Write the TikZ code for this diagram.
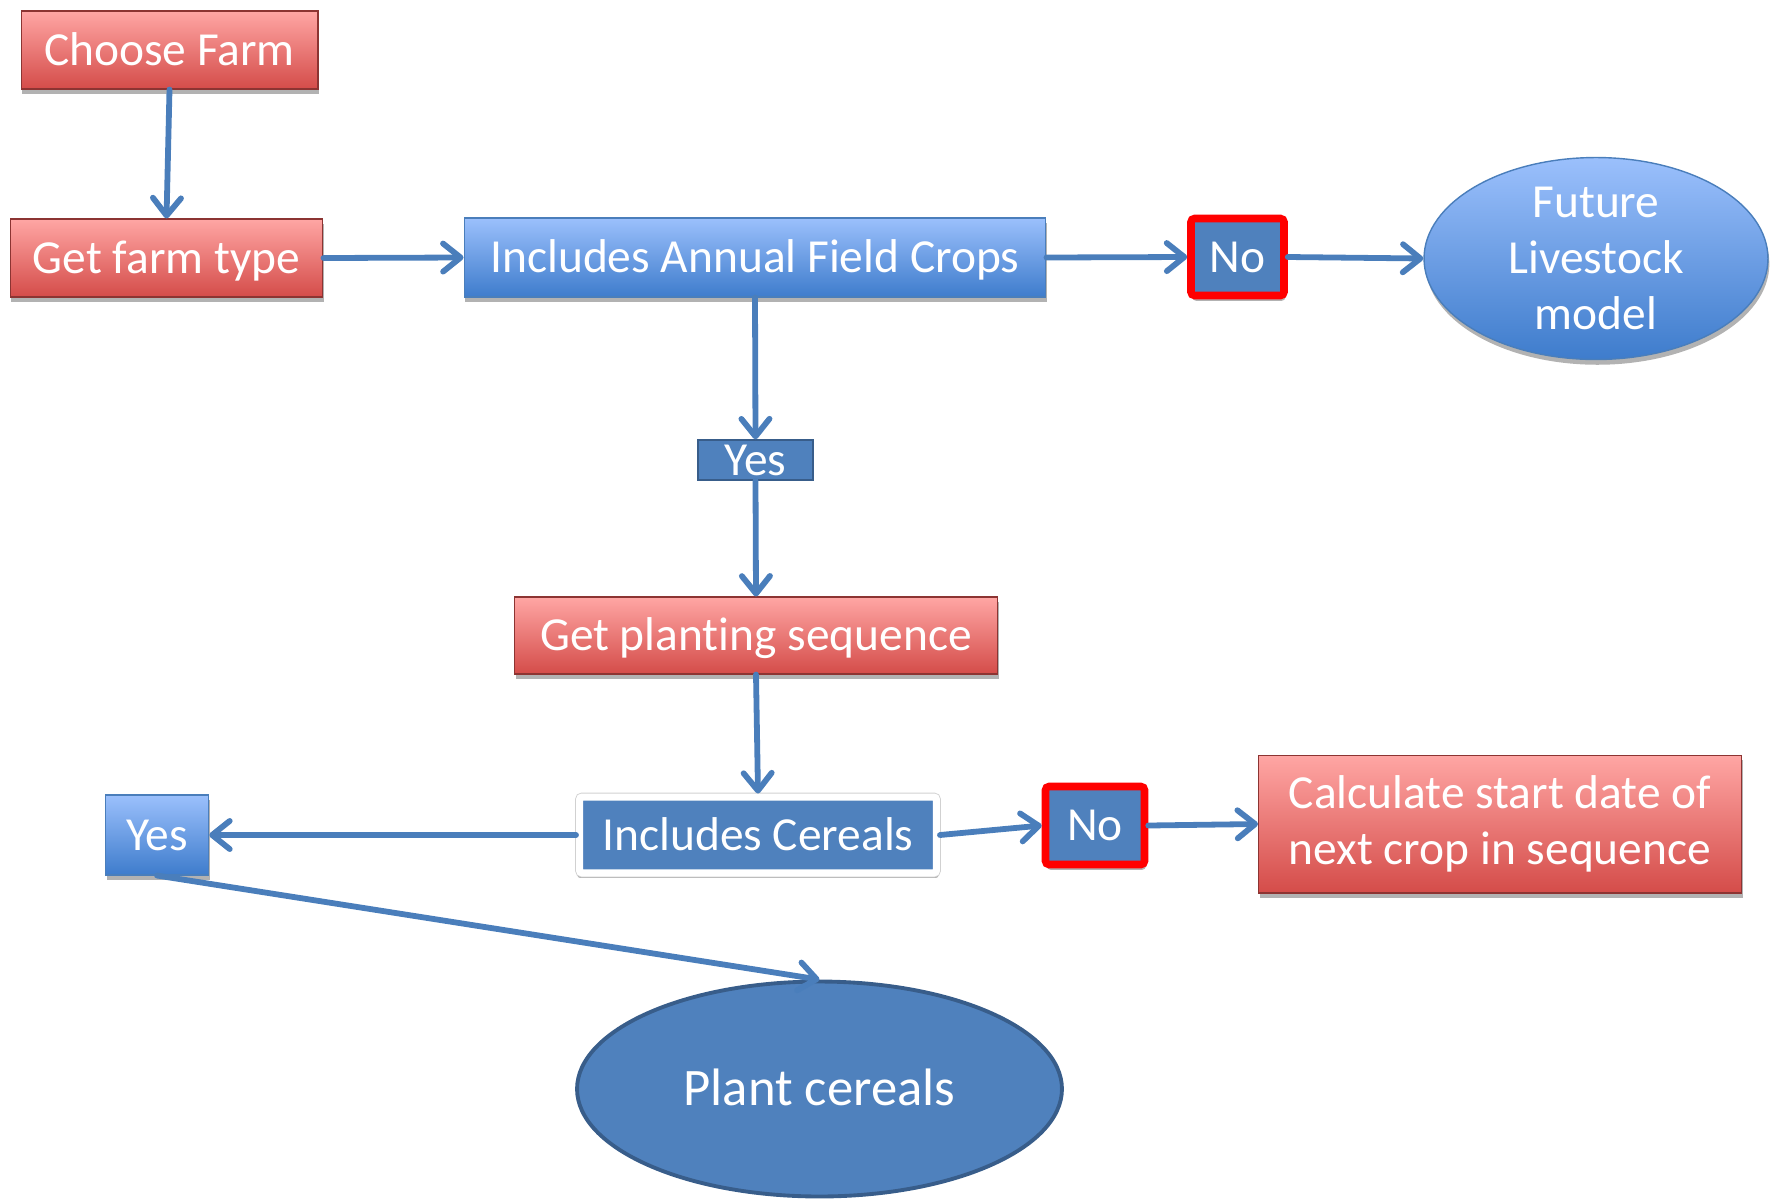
\documentclass[tikz,border=0pt]{standalone}
\usepackage{fontspec}
\setmainfont{Carlito}[Ligatures=NoCommon]
\usetikzlibrary{arrows.meta,shapes.geometric,shadows}
\definecolor{lineblue}{RGB}{74,126,187}
\definecolor{solidblue}{RGB}{79,129,189}
\definecolor{bluetop}{RGB}{155,192,252}
\definecolor{bluebot}{RGB}{62,124,204}
\definecolor{redtop}{RGB}{255,166,164}
\definecolor{redbot}{RGB}{212,76,73}
\definecolor{redborder}{RGB}{140,52,50}
\definecolor{darkblue}{RGB}{56,93,138}
\tikzset{
  base/.style={inner sep=0pt, text=white, font=\fontsize{27}{32}\selectfont, align=center},
  oneline/.style={text height=19pt, text depth=1.6pt},
  softshadow/.style={drop shadow={shadow xshift=0.8pt, shadow yshift=-3pt, opacity=0.3, fill=black}},
  redbox/.style={base, rectangle, top color=redtop, bottom color=redbot, draw=redborder, line width=0.6pt, softshadow},
  bluegrad/.style={base, rectangle, top color=bluetop, bottom color=bluebot, draw=lineblue, line width=0.6pt, softshadow},
  solidbox/.style={base, rectangle, fill=solidblue},
  nobox/.style={solidbox, draw=red, line width=4.3pt, rounded corners=2pt, softshadow},
  conn/.style={draw=lineblue, line width=3.3pt, line cap=round, -{Straight Barb[length=10pt,width=16pt,round]}},
}
\begin{document}
\begin{tikzpicture}[x=0.02cm,y=-0.02cm]
\useasboundingbox (0,0) rectangle (1772,1198);
% nodes
\node[redbox, oneline, minimum width=5.94cm, minimum height=1.56cm] (cf) at (169.5,50) {Choose Farm};
\node[redbox, oneline, minimum width=6.26cm, minimum height=1.56cm] (gft) at (166.5,258) {Get farm type};
\node[bluegrad, oneline, minimum width=11.64cm, minimum height=1.58cm] (afc) at (755,257.5) {Includes Annual Field Crops};
\node[nobox, oneline, minimum width=1.86cm, minimum height=1.54cm] (no1) at (1237.5,257) {No};
\node[base, ellipse, top color=bluetop, bottom color=bluebot, draw=lineblue, line width=0.8pt, softshadow,
      inner xsep=0pt, inner ysep=-14pt, minimum width=6.88cm, minimum height=4.04cm] (fl) at (1596,258.5) {Future\\Livestock\\model};
\node[solidbox, oneline, draw=darkblue, line width=0.8pt, minimum width=2.3cm, minimum height=0.8cm] (yes1) at (755.5,460) {Yes};
\node[redbox, oneline, minimum width=9.66cm, minimum height=1.54cm] (gps) at (756,635.5) {Get planting sequence};
\node[solidbox, oneline, draw=white, line width=4pt, rounded corners=1.5pt,
      drop shadow={shadow xshift=0pt, shadow yshift=-2.5pt, shadow scale=1.012, opacity=0.3, fill=black},
      preaction={draw=black!18, line width=5pt},
      minimum width=7.14cm, minimum height=1.52cm] (ic) at (758,835) {Includes Cereals};
\node[nobox, oneline, minimum width=1.98cm, minimum height=1.56cm] (no2) at (1095,825.5) {No};
\node[redbox, align=left, minimum width=9.66cm, minimum height=2.76cm] (calc) at (1500,824) {Calculate start date of\\next crop in sequence};
\node[bluegrad, oneline, minimum width=2.07cm, minimum height=1.6cm] (yes2) at (157,835) {Yes};
\node[base, ellipse, fill=solidblue, draw=darkblue, line width=2.2pt, font=\fontsize{30}{36}\selectfont,
      text height=21pt, text depth=1.8pt,
      minimum width=9.7cm, minimum height=4.3cm] (pc) at (819.5,1089) {Plant cereals};
% connectors
\draw[conn] (cf.south) -- (gft.north);
\draw[conn] (gft.east) -- (afc.west);
\draw[conn] (afc.east) -- (no1.west);
\draw[conn] (no1.east) -- (fl.west);
\draw[conn] (afc.south) -- (yes1.north);
\draw[conn] (yes1.south) -- (gps.north);
\draw[conn] (gps.south) -- (ic.north);
\draw[conn] (ic.west) -- (yes2.east);
\draw[conn] (ic.east) -- (no2.west);
\draw[conn] (no2.east) -- (calc.west);
\draw[conn] (yes2.south) -- (pc.north);
\end{tikzpicture}
\end{document}
